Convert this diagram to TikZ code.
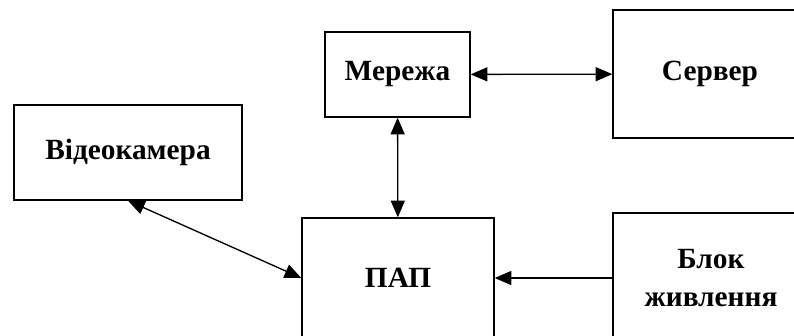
\documentclass[tikz,border=0pt]{standalone}
\usepackage{fontspec}
\setmainfont{Liberation Serif}
\usetikzlibrary{arrows.meta}

\begin{document}
\begin{tikzpicture}[x=0.75pt,y=-0.75pt,>={Triangle[length=12.5pt,width=10.5pt]},box/.style = {draw, rectangle, line width=1pt, align=center, font=\fontsize{22}{29}\selectfont\bfseries}, link/.style = {line width=1pt}]
				\useasboundingbox (0,0) rectangle (794,336);
				\clip (0,0) rectangle (794,336);
				\begin{scope}[every node/.style={box}]
					\node[minimum width=228*0.75pt, minimum height=95*0.75pt] (cam) at (128,152.5) {Відеокамера};
					\node[minimum width=145*0.75pt, minimum height=85*0.75pt] (net) at (397.5,74.5) {Мережа};
					\node[minimum width=194*0.75pt, minimum height=128*0.75pt] (srv) at (710,74) {Сервер};
					\node[minimum width=192*0.75pt, minimum height=120*0.75pt] (pap) at (398,278) {ПАП};
					\node[minimum width=196*0.75pt, minimum height=130*0.75pt] (pwr) at (711,278) {Блок\\живлення};
				\end{scope}
				\draw [link,<->] (net) -- (srv);
				\draw [link,<->] (net) -- (pap);
				\draw [link,<->] (cam.south) -- (pap.west);
				\draw [link,->] (pwr.west) -- (pap.east);
			\end{tikzpicture}
\end{document}
